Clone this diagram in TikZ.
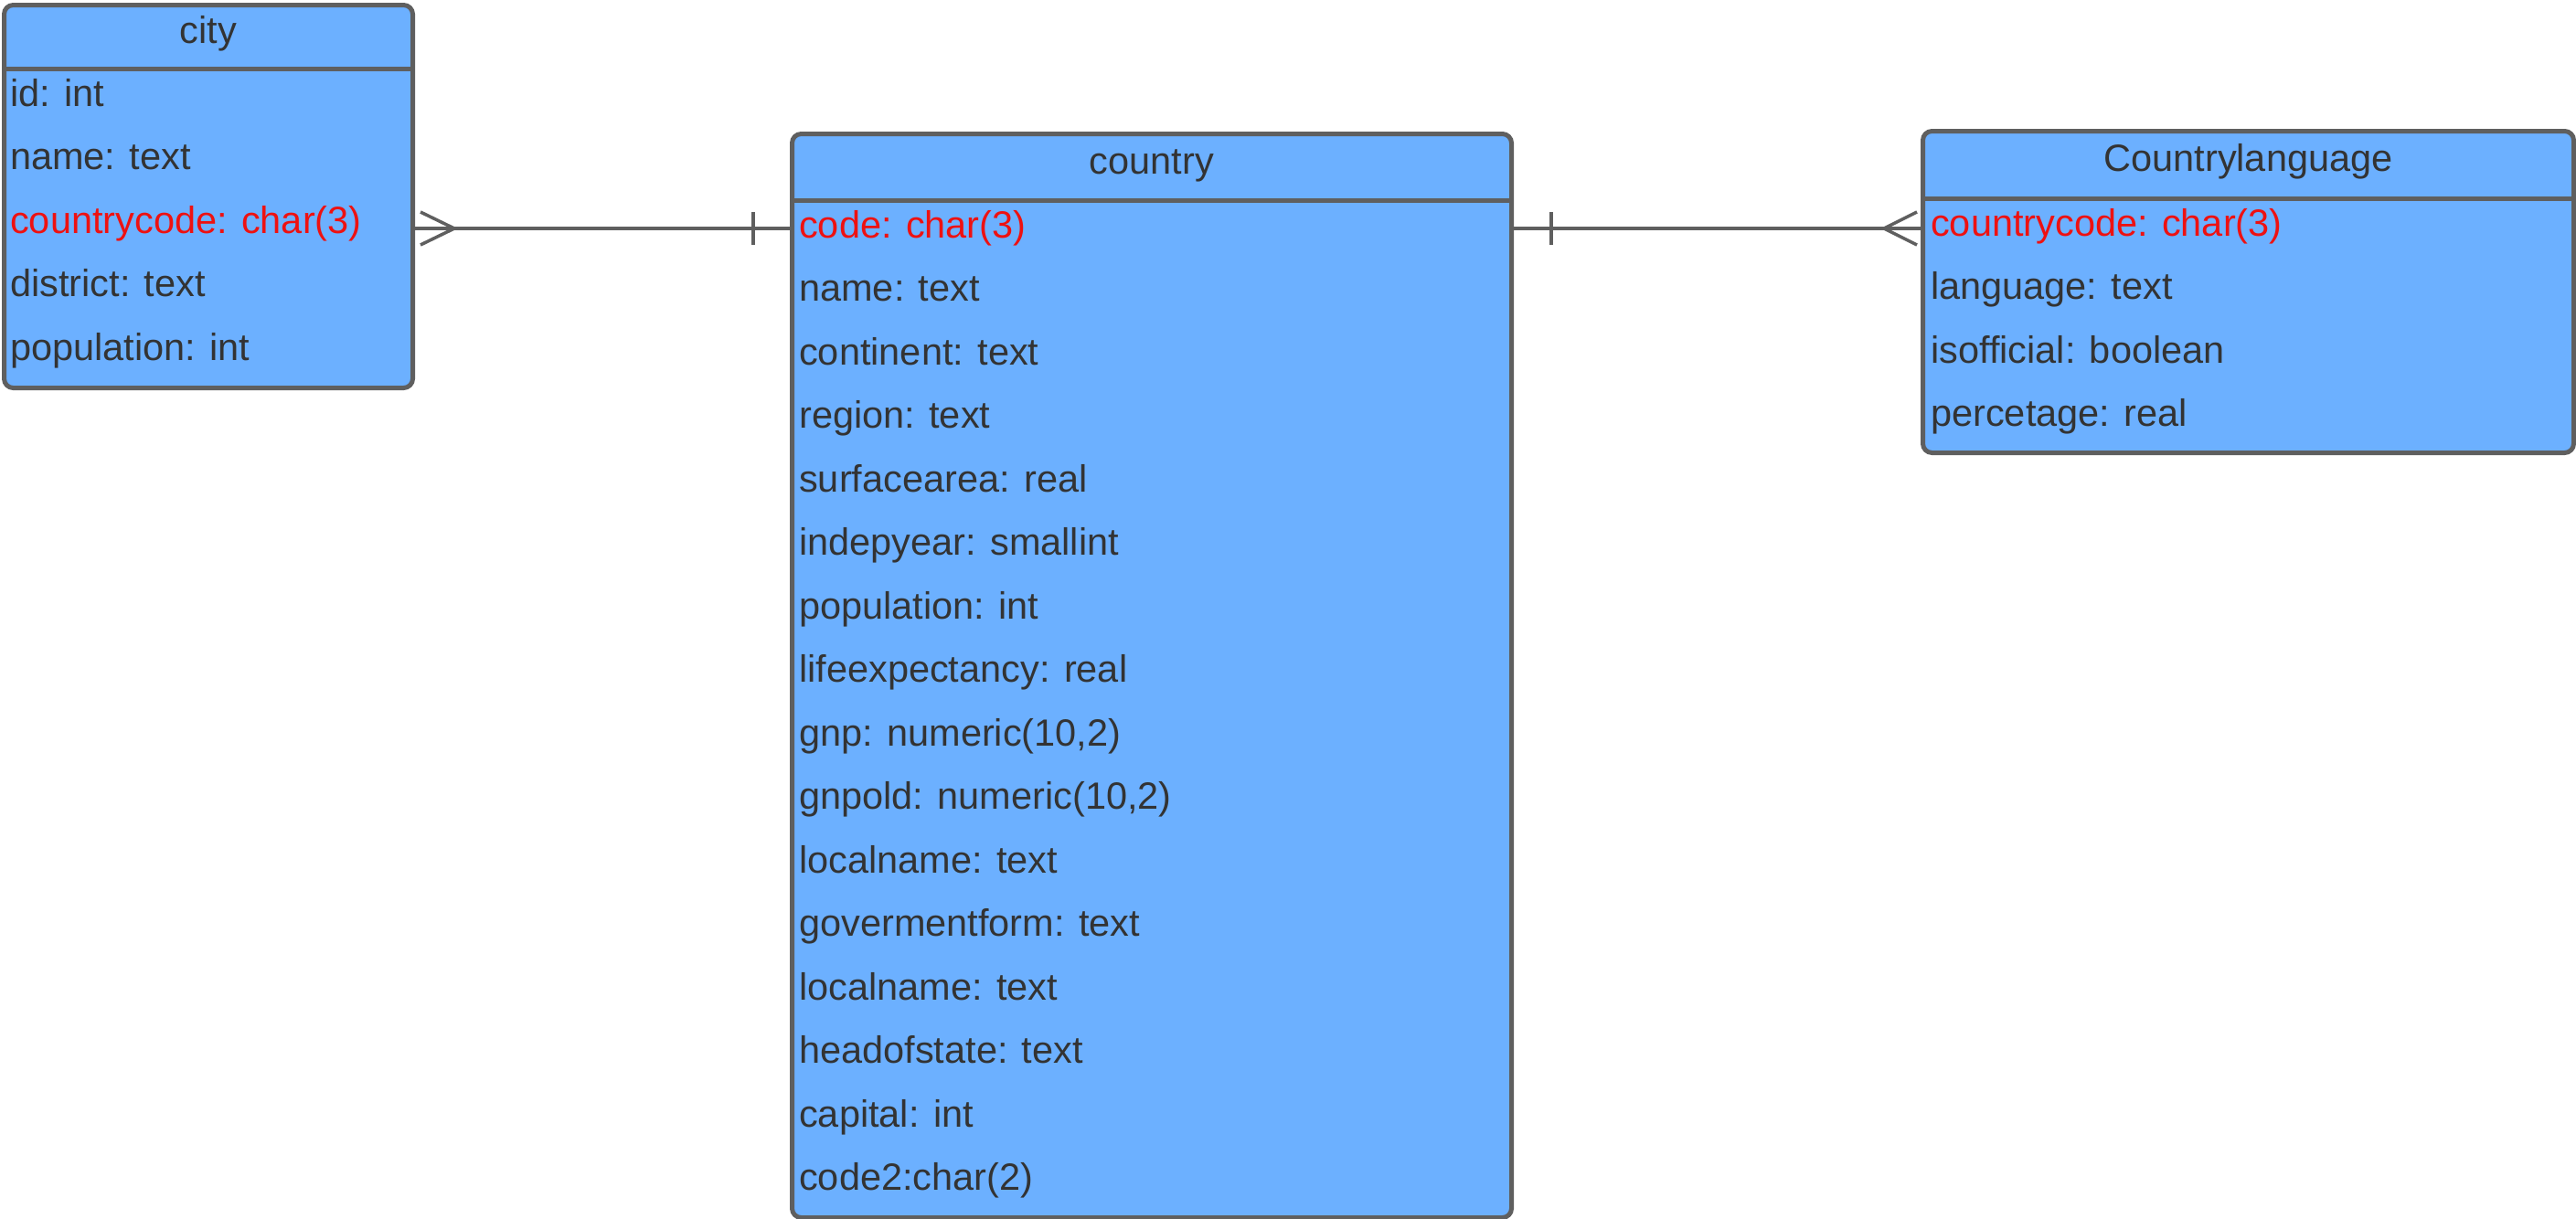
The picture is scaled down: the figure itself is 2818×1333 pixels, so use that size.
\documentclass[tikz,border=0pt]{standalone}
\usepackage{fontspec}
\setmainfont{Liberation Sans}
\definecolor{boxfill}{HTML}{6CB0FF}
\definecolor{boxline}{HTML}{5F5F5F}
\definecolor{txt}{HTML}{333333}
\definecolor{keyred}{HTML}{EE1111}
\begin{document}
\begin{tikzpicture}[x=1pt,y=-1pt,
  tbl/.style={draw=boxline, fill=boxfill, line width=5pt, rounded corners=10pt, rectangle, inner sep=0pt, anchor=north west},
  sep/.style={draw=boxline, line width=5pt},
  fld/.style={anchor=base west, inner sep=0pt, text=txt, font=\fontsize{41.5}{50}\selectfont},
  keyfld/.style={fld, text=keyred},
  ttl/.style={anchor=base, inner sep=0pt, text=txt, font=\fontsize{41.5}{50}\selectfont},
  conn/.style={draw=boxline, line width=3.5pt}]
\useasboundingbox (0,0) rectangle (2818,1333);

% tables
\node[tbl, minimum width=447pt, minimum height=419pt] (city) at (2,3) {};
\node[tbl, minimum width=787pt, minimum height=1186pt] (country) at (864,144) {};
\node[tbl, minimum width=712pt, minimum height=352pt] (cl) at (2101,141) {};

% header separators
\draw[sep] ([yshift=-72pt]city.north west) -- ([yshift=-72pt]city.north east);
\draw[sep] ([yshift=-75pt]country.north west) -- ([yshift=-75pt]country.north east);
\draw[sep] ([yshift=-76pt]cl.north west) -- ([yshift=-76pt]cl.north east);

% titles
\node[ttl] (cityt) at ([yshift=-44pt]city.north) {city};
\node[ttl] (countryt) at ([yshift=-46pt]country.north) {country};
\node[ttl] (clt) at ([yshift=-46pt]cl.north) {Countrylanguage};

% city fields
\node[fld] (c1) at (11,116) {id: int};
\node[fld] (c2) at (11,185.5) {name: text};
\node[keyfld] (c3) at (11,255) {countrycode: char(3)};
\node[fld] (c4) at (11,324.5) {district: text};
\node[fld] (c5) at (11,394) {population: int};

% country fields
\foreach \t [count=\i from 0] in {name: text, continent: text, region: text, surfacearea: real, indepyear: smallint, population: int, lifeexpectancy: real, {gnp: numeric(10,2)}, {gnpold: numeric(10,2)}, localname: text, govermentform: text, localname: text, headofstate: text, capital: int, code2:char(2)}
  \node[fld] (k\i) at (874,{329.5+69.5*\i}) {\t};
\node[keyfld] (kcode) at (874,260) {code: char(3)};

% countrylanguage fields
\node[keyfld] (l1) at (2112,258) {countrycode: char(3)};
\node[fld] (l2) at (2112,327.5) {language: text};
\node[fld] (l3) at (2112,397) {isofficial: boolean};
\node[fld] (l4) at (2112,466.5) {percetage: real};

% connectors
\coordinate (jl) at (0,250);
\path (city.east |- jl) coordinate (a1) (country.west |- jl) coordinate (a2);
\path (country.east |- jl) coordinate (b1) (cl.west |- jl) coordinate (b2);

\draw[conn] (a1) -- (a2);
\draw[conn] ([shift={(6,-18)}]a1) -- ([shift={(43,0)}]a1) -- ([shift={(6,18)}]a1);
\draw[conn] ([shift={(-40,-18)}]a2) -- ([shift={(-40,18)}]a2);

\draw[conn] (b1) -- (b2);
\draw[conn] ([shift={(41,-18)}]b1) -- ([shift={(41,18)}]b1);
\draw[conn] ([shift={(-4,-18)}]b2) -- ([shift={(-40,0)}]b2) -- ([shift={(-4,18)}]b2);
\end{tikzpicture}
\end{document}
